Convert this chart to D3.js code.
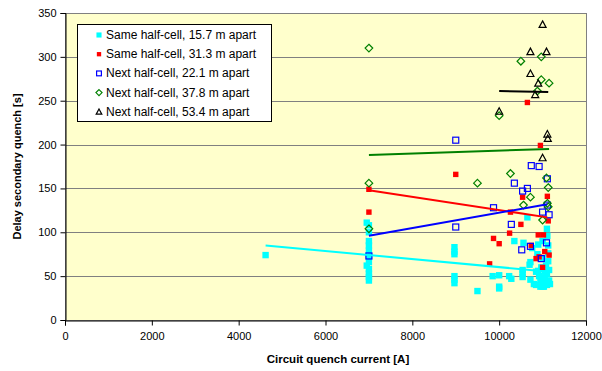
<!DOCTYPE html>
<html><head><meta charset="utf-8">
<script src="https://cdn.jsdelivr.net/npm/d3@7"></script>
<style>body{margin:0;background:#fff}svg{display:block;font-family:"Liberation Sans",Arial,sans-serif}</style>
</head><body><svg id="c" width="602" height="371"></svg>
<script>
const xTicks = [0,2000,4000,6000,8000,10000,12000];
const yTicks = [0,50,100,150,200,250,300,350];
const seriesNames = ["Same half-cell, 15.7 m apart","Same half-cell, 31.3 m apart","Next half-cell, 22.1 m apart","Next half-cell, 37.8 m apart","Next half-cell, 53.4 m apart"];
const same157 = [[4620,74],[6950,111],[7000,108],[7000,100],[7000,90],[7000,85],[7000,79],[7000,73],[6950,62],[7000,66],[7000,58],[7000,53],[7000,49],[7000,45],
 [8970,83],[8970,78],[8970,75],[8970,50],[8970,46],[8970,42],[9500,33],[9850,50],[10000,51],[10000,38],[10000,36],[10230,50],[10280,47],
 [10350,90],[10540,57],[10540,53],[10540,49],[10650,117],[10700,63],[10720,46],[10760,82],[10800,41],[10850,40],[10850,55],[10560,88],[10720,66],
 [10900,86],[10920,50],[10950,45],[10950,38],[10970,60],[11000,70],[11000,42],[11030,38],[11050,55],[11050,48],[11080,62],[11100,40],[11100,52],
 [11110,96],[11130,85],[11130,76],[11130,67],[11150,45],[11150,57],[11170,41],[11000,90],[10880,75],[11100,104],[11000,38],[10900,56],[11080,44]];
const same313 = [[7000,149],[7000,123],[9000,166],[9780,64],[9870,93],[10000,87],[10240,99],[10260,123],[10500,109],[10540,140],[10650,248],
 [10740,85],[10850,70],[10900,97],[10950,199],[11020,97],[11000,60],[11050,78],[11150,74],[11110,141],[11130,113],[10920,72]];
const next221 = [[7000,73],[9000,106],[9000,205],[9870,128],[10280,109],[10350,156],[10540,147],[10650,150],[10520,80],[10720,84],[10740,176],
 [10920,175],[11110,161],[11000,123],[11150,120],[11090,88],[10970,70],[11110,131]];
const next378 = [[7000,310],[7000,156],[7000,104],[9500,156],[10000,233],[10260,167],[10500,295],[10560,131],[10720,140],[10880,261],
 [10970,300],[10970,274],[11000,114],[11090,162],[11110,133],[11130,151],[11130,129],[11150,270]];
const next534 = [[11000,337],[10720,306],[11090,306],[10720,281],[10900,270],[10830,257],[10000,238],[11110,212],[11120,207],[11000,185]];
const trend157 = [[4620,85],[11150,55]];
const trend313 = [[7000,148],[11110,117]];
const trend221 = [[7000,96],[11110,132]];
const trend378 = [[7000,188],[11150,195]];
const trend534 = [[10000,261],[11130,260]];

const svg = d3.select("#c");
const m = {l:65,r:586,t:13,b:320};
const x = d3.scaleLinear().domain([0,12000]).range([m.l,m.r]);
const y = d3.scaleLinear().domain([0,350]).range([m.b,m.t]);

svg.append("rect").attr("x",m.l).attr("y",m.t).attr("width",m.r-m.l).attr("height",m.b-m.t).attr("fill","#FFFFCC");
svg.append("g").selectAll("line").data(yTicks.filter(d=>d>0&&d<350)).join("line")
 .attr("x1",m.l).attr("x2",m.r).attr("y1",d=>Math.round(y(d))+0.5).attr("y2",d=>Math.round(y(d))+0.5).attr("stroke","#808080").attr("stroke-width",1);
svg.append("rect").attr("x",m.l+0.5).attr("y",m.t+0.5).attr("width",m.r-m.l).attr("height",m.b-m.t).attr("fill","none").attr("stroke","#808080");

const xa = svg.append("g").attr("transform",`translate(0,${m.b+0.5})`).call(d3.axisBottom(x).tickValues(xTicks).tickSize(5).tickPadding(7).tickFormat(d3.format("d")));
const ya = svg.append("g").attr("transform",`translate(${m.l+0.5},0)`).call(d3.axisLeft(y).tickValues(yTicks).tickSize(5).tickPadding(4));
[xa,ya].forEach(a=>{a.selectAll("path,line").attr("stroke","#000");a.selectAll("text").attr("font-size",11).attr("fill","#000").attr("font-family","Liberation Sans, Arial");});

svg.append("text").attr("x",338).attr("y",363).attr("text-anchor","middle").attr("font-size",11.5).attr("font-weight","bold").text("Circuit quench current [A]");
svg.append("text").attr("transform",`translate(21,${(m.t+m.b)/2}) rotate(-90)`).attr("text-anchor","middle").attr("font-size",11).attr("font-weight","bold").text("Delay secondary quench [s]");

const line = d3.line().x(d=>x(d[0])).y(d=>y(d[1]));
const trends = [[trend157,"#00FFFF"],[trend313,"#FF0000"],[trend221,"#0000FF"],[trend378,"#008000"],[trend534,"#000000"]];

function marker(g, type, cx, cy, s){
  s = s||1;
  if(type===0) g.append("rect").attr("x",cx-3.2*s).attr("y",cy-3.2*s).attr("width",6.4*s).attr("height",6.4*s).attr("fill","#00FFFF");
  else if(type===1) g.append("rect").attr("x",cx-2.7*s).attr("y",cy-2.7*s).attr("width",5.4*s).attr("height",5.4*s).attr("fill","#FF0000");
  else if(type===2) g.append("rect").attr("x",cx-3*s).attr("y",cy-3*s).attr("width",6*s).attr("height",6*s).attr("fill","none").attr("stroke","#0000FF").attr("stroke-width",1.2);
  else if(type===3) g.append("path").attr("d",`M${cx},${cy-3.8*s}L${cx+3.8*s},${cy}L${cx},${cy+3.8*s}L${cx-3.8*s},${cy}Z`).attr("fill","none").attr("stroke","#008000").attr("stroke-width",1.2);
  else g.append("path").attr("d",`M${cx},${cy-3.5*s}L${cx+3.5*s},${cy+3*s}L${cx-3.5*s},${cy+3*s}Z`).attr("fill","none").attr("stroke","#000").attr("stroke-width",1.2);
}
const all = [same157,same313,next221,next378,next534];
const pg = svg.append("g");
all.forEach((s,i)=>{ s.forEach(d=>marker(pg,i,x(d[0]),y(d[1]))); });
trends.forEach(([t,c])=>svg.append("path").datum(t).attr("d",line).attr("fill","none").attr("stroke",c).attr("stroke-width",2));

const lg = svg.append("g");
lg.append("rect").attr("x",77.5).attr("y",24.5).attr("width",194).attr("height",97).attr("fill","#fff").attr("stroke","#000");
seriesNames.forEach((n,i)=>{
  const yy = 35 + i*19.2;
  marker(lg,i,99,yy,0.8);
  lg.append("text").attr("x",106).attr("y",yy+4).attr("font-size",12).text(n);
});
</script></body></html>
